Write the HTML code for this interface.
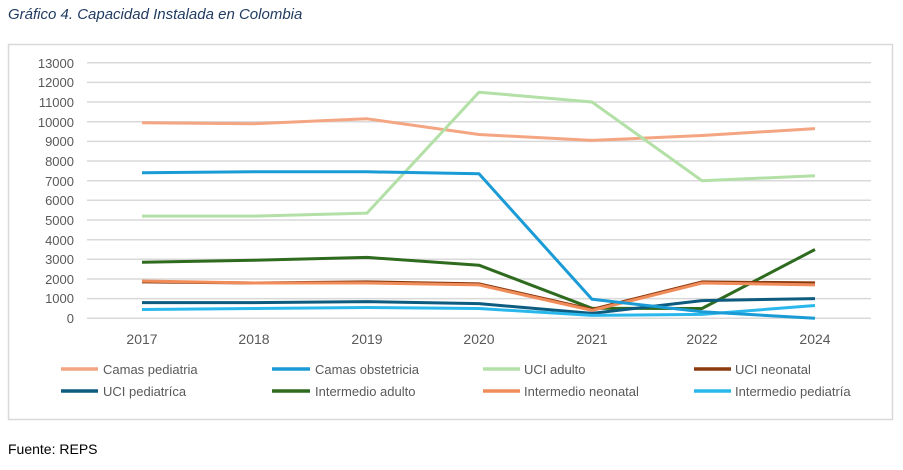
<!DOCTYPE html>
<html><head><meta charset="utf-8"><style>
body{margin:0;background:#fff;width:903px;height:465px;overflow:hidden;font-family:"Liberation Sans",sans-serif;}
</style></head><body>
<svg width="903" height="465" xmlns="http://www.w3.org/2000/svg" font-family="Liberation Sans, sans-serif">
<text x="8" y="19" font-size="15" font-style="italic" fill="#1f3a5f">Gráfico 4. Capacidad Instalada en Colombia</text>
<rect x="8.5" y="44.5" width="884" height="375" fill="#fff" stroke="#d9d9d9" stroke-width="1.5"/>
<g stroke="#d9d9d9" stroke-width="1.5">
<line x1="87" x2="871" y1="318.3" y2="318.3"/><line x1="87" x2="871" y1="298.6" y2="298.6"/><line x1="87" x2="871" y1="279" y2="279"/><line x1="87" x2="871" y1="259.3" y2="259.3"/><line x1="87" x2="871" y1="239.7" y2="239.7"/><line x1="87" x2="871" y1="220" y2="220"/><line x1="87" x2="871" y1="200.3" y2="200.3"/><line x1="87" x2="871" y1="180.7" y2="180.7"/><line x1="87" x2="871" y1="161" y2="161"/><line x1="87" x2="871" y1="141.4" y2="141.4"/><line x1="87" x2="871" y1="121.7" y2="121.7"/><line x1="87" x2="871" y1="102" y2="102"/><line x1="87" x2="871" y1="82.4" y2="82.4"/><line x1="87" x2="871" y1="62.7" y2="62.7"/>
</g>
<g font-size="13" fill="#595959" text-anchor="end">
<text x="74" y="323">0</text><text x="74" y="303">1000</text><text x="74" y="284">2000</text><text x="74" y="264">3000</text><text x="74" y="245">4000</text><text x="74" y="225">5000</text><text x="74" y="205">6000</text><text x="74" y="186">7000</text><text x="74" y="166">8000</text><text x="74" y="146">9000</text><text x="74" y="127">10000</text><text x="74" y="107">11000</text><text x="74" y="87">12000</text><text x="74" y="68">13000</text>
</g>
<g font-size="14" fill="#595959" text-anchor="middle">
<text x="142" y="344">2017</text><text x="254" y="344">2018</text><text x="367" y="344">2019</text><text x="479" y="344">2020</text><text x="592" y="344">2021</text><text x="702" y="344">2022</text><text x="815" y="344">2024</text>
</g>
<g fill="none" stroke-width="3" stroke-linejoin="round">
<polyline stroke="#f4a582" points="142,122.7 254,123.7 367,118.8 479,134.5 592,140.4 702,135.5 815,128.6"/>
<polyline stroke="#b3e0a6" points="142,216.1 254,216.1 367,213.1 479,92.2 592,102 702,180.7 815,175.8"/>
<polyline stroke="#2e6b1f" points="142,262.3 254,260.3 367,257.4 479,265.2 592,308.3 702,308.5 815,249.5"/>
<polyline stroke="#8b3a0f" points="142,281.9 254,283 367,281.9 479,283.9 592,309.5 702,281.9 815,282.9"/>
<polyline stroke="#f08c5a" points="142,281 254,283 367,283 479,284.9 592,310.4 702,283 815,284.9"/>
<polyline stroke="#0d5c80" points="142,302.6 254,302.6 367,301.6 479,303.6 592,313.4 702,300.6 815,298.6"/>
<polyline stroke="#2ab8ec" points="142,309.5 254,308.5 367,307.5 479,308.5 592,315.4 702,314.4 815,305.5"/>
<polyline stroke="#1a9bd6" points="142,172.8 254,171.8 367,171.8 479,173.8 592,299.3 702,311.7 815,318.3"/>
</g>
<g stroke-width="3.5">
<line x1="61" x2="98" y1="369" y2="369" stroke="#f4a582"/><line x1="272" x2="310" y1="369" y2="369" stroke="#1a9bd6"/><line x1="483" x2="520" y1="369" y2="369" stroke="#b3e0a6"/><line x1="694" x2="731" y1="369" y2="369" stroke="#8b3a0f"/>
<line x1="61" x2="98" y1="391" y2="391" stroke="#0d5c80"/><line x1="272" x2="310" y1="391" y2="391" stroke="#2e6b1f"/><line x1="483" x2="520" y1="391" y2="391" stroke="#f08c5a"/><line x1="694" x2="731" y1="391" y2="391" stroke="#2ab8ec"/>
</g>
<g font-size="13" fill="#595959">
<text x="103" y="374">Camas pediatria</text><text x="315" y="374">Camas obstetricia</text><text x="524" y="374">UCI adulto</text><text x="735" y="374">UCI neonatal</text>
<text x="103" y="396">UCI pediatríca</text><text x="315" y="396">Intermedio adulto</text><text x="524" y="396">Intermedio neonatal</text><text x="735" y="396">Intermedio pediatría</text>
</g>
<text x="8" y="454" font-size="14" fill="#000">Fuente: REPS</text>
</svg>
</body></html>
